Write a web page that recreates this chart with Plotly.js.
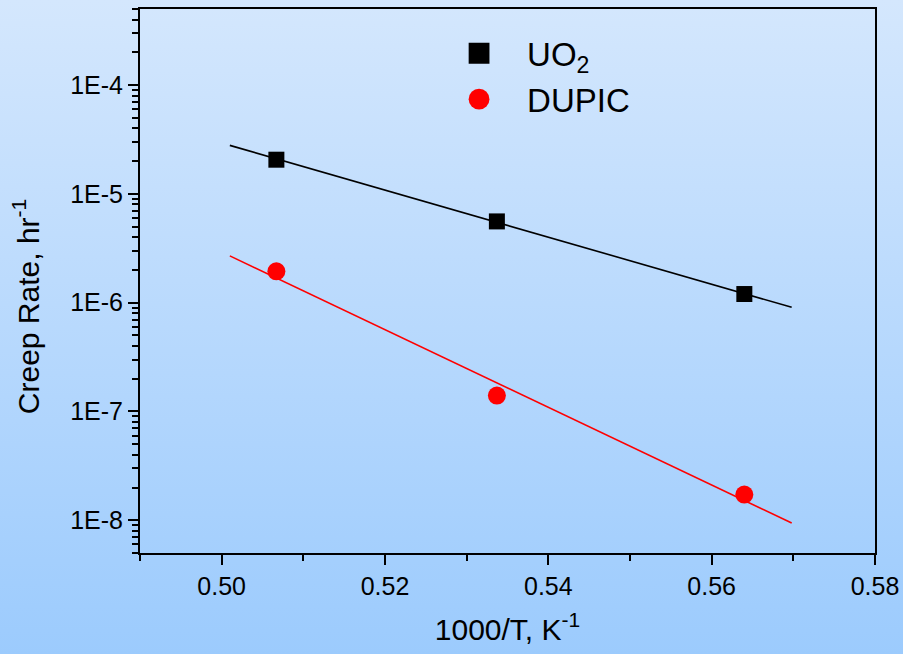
<!DOCTYPE html>
<html>
<head>
<meta charset="utf-8">
<script src="https://cdn.plot.ly/plotly-3.0.1.min.js"></script>
<style>
  html, body { margin: 0; padding: 0; }
  body { width: 903px; height: 654px; background: linear-gradient(to bottom, #d4e7fd 0%, #9ccbfd 100%); }
  #chart { width: 903px; height: 654px; }
</style>
</head>
<body>
<div id="chart"></div>
<script>
// Measured data points (1000/T in 1/K, creep rate in 1/hr)
var invT = [0.5067, 0.5337, 0.5640];
var uo2Rate = [2.06e-5, 5.58e-6, 1.20e-6];
var dupicRate = [1.94e-6, 1.40e-7, 1.72e-8];

// Fitted lines (end points)
var fitX = [0.5010, 0.5698];
var uo2Fit = [2.79e-5, 9.06e-7];
var dupicFit = [2.69e-6, 9.42e-9];

// Axis ticks
var xTicks = [0.50, 0.52, 0.54, 0.56, 0.58];
var xTickText = ['0.50', '0.52', '0.54', '0.56', '0.58'];
var yTicks = [1e-8, 1e-7, 1e-6, 1e-5, 1e-4];
var yTickText = ['1E-8', '1E-7', '1E-6', '1E-5', '1E-4'];

var font = 'Arial, "Liberation Sans", sans-serif';

var traces = [
  { x: fitX, y: uo2Fit, mode: 'lines', line: { color: '#000000', width: 1.6 }, showlegend: false, hoverinfo: 'skip' },
  { x: fitX, y: dupicFit, mode: 'lines', line: { color: '#ff0000', width: 1.6 }, showlegend: false, hoverinfo: 'skip' },
  { x: invT, y: uo2Rate, mode: 'markers', name: 'UO<sub>2</sub>', legendgroup: 'a',
    marker: { symbol: 'square', size: 16, color: '#000000', line: { width: 0 } } },
  { x: invT, y: dupicRate, mode: 'markers', name: 'DUPIC', legendgroup: 'b',
    marker: { symbol: 'circle', size: 18, color: '#ff0000', line: { width: 0 } } }
];

var axisCommon = {
  showgrid: false, zeroline: false, showline: true, linecolor: '#000000', linewidth: 2,
  mirror: true, ticks: 'outside', ticklen: 10, tickwidth: 2, tickcolor: '#000000',
  tickfont: { family: font, size: 25, color: '#000000' }
};

var layout = {
  width: 903, height: 654,
  paper_bgcolor: 'rgba(0,0,0,0)', plot_bgcolor: 'rgba(0,0,0,0)',
  margin: { l: 140, r: 28, t: 9, b: 101 },
  font: { family: font, color: '#000000' },
  xaxis: Object.assign({}, axisCommon, {
    range: [0.49, 0.58], tickmode: 'array', tickvals: xTicks, ticktext: xTickText,
    minor: { dtick: 0.01, tick0: 0.49, ticks: 'outside', ticklen: 6, tickwidth: 2, tickcolor: '#000000' },
    title: { text: '1000/T, K<sup>-1</sup>', font: { family: font, size: 30, color: '#000000' }, standoff: 20 }
  }),
  yaxis: Object.assign({}, axisCommon, {
    type: 'log', range: [Math.log10(5e-9), Math.log10(5e-4)],
    tickmode: 'array', tickvals: yTicks, ticktext: yTickText,
    minor: { dtick: 'D1', ticks: 'outside', ticklen: 6, tickwidth: 2, tickcolor: '#000000' },
    title: { text: '' }
  }),
  annotations: [{
    text: 'Creep Rate, hr<sup>-1</sup>', textangle: -90, showarrow: false,
    xref: 'paper', yref: 'paper', x: -0.155, y: 0.452, xanchor: 'center', yanchor: 'middle',
    font: { family: font, size: 30, color: '#000000' }
  }],
  showlegend: true,
  legend: {
    x: 0.396, y: 0.97, xanchor: 'left', yanchor: 'top',
    bgcolor: 'rgba(0,0,0,0)', borderwidth: 0,
    font: { family: font, size: 33, color: '#000000' },
    itemwidth: 86, tracegroupgap: 0
  }
};

Plotly.newPlot('chart', traces, layout, { displayModeBar: false, staticPlot: true }).then(function () {
  // enlarge legend symbols to match the reference key
  document.querySelectorAll('.legend .legendpoints path').forEach(function (p) {
    var t = p.getAttribute('transform') || '';
    p.setAttribute('transform', t + ' scale(1.3)');
  });
});
</script>
</body>
</html>
